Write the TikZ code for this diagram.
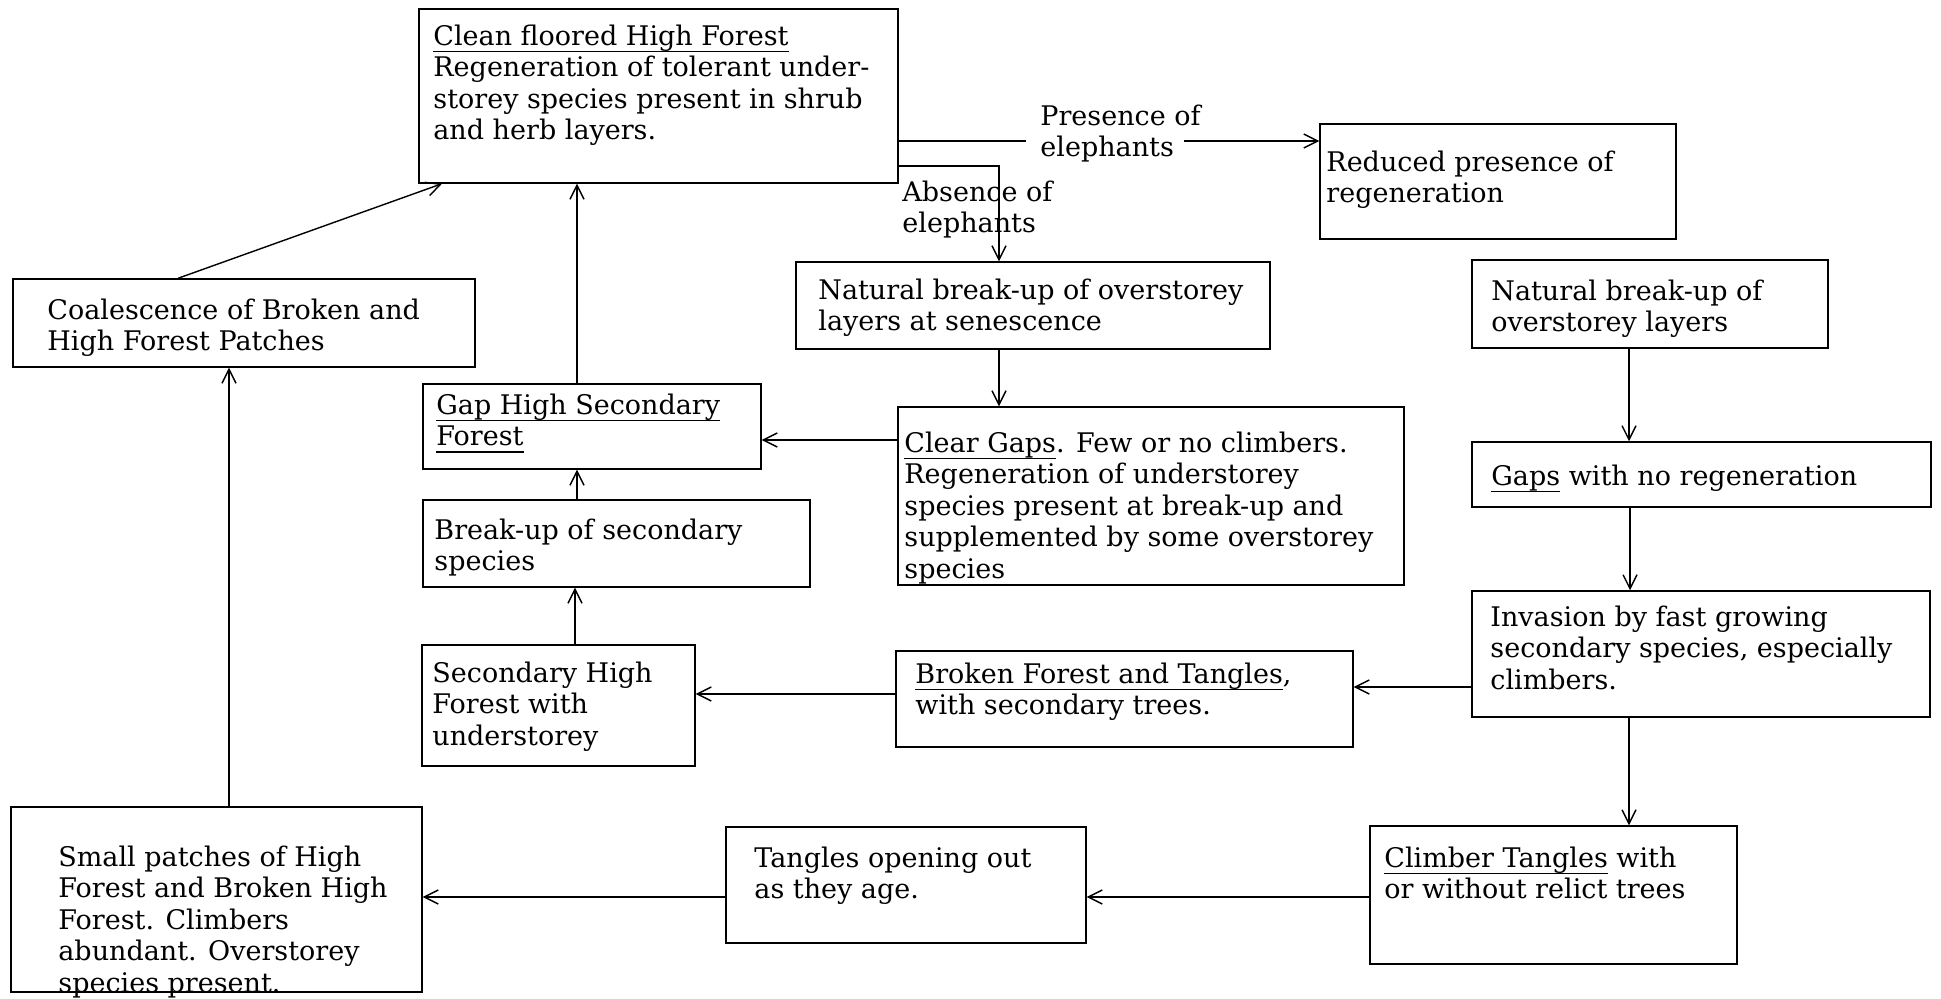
\documentclass[tikz,border=0pt]{standalone}
\usepackage{fontspec}
\setmainfont{DejaVu Serif}
\usetikzlibrary{arrows.meta,fit}
\tikzset{
  box/.style={draw, line width=0.7pt, inner sep=0pt},
  txt/.style={inner sep=0pt, align=left, anchor=north west, font=\fontsize{13.5}{15.75}\selectfont},
  arr/.style={-{Straight Barb[length=7pt,width=7pt]}, line width=0.7pt},
  ln/.style={line width=0.7pt}
}
\newsavebox{\ulbox}
\newcommand{\ulin}[1]{\sbox{\ulbox}{#1}\rlap{\rule[-3.3pt]{\wd\ulbox}{0.55pt}}\usebox{\ulbox}}
\newcommand{\bx}[5]{\node[box, fit={(#2,#3) (#4,#5)}] (#1) {};}
\newcommand{\tx}[4]{\node[txt] (#1) at (#2,#3-22.05) {\strut #4};}
\begin{document}
\begin{tikzpicture}[x=0.5pt,y=-0.5pt]
\useasboundingbox (0,0) rectangle (1941,999);
% boxes
\bx{top}{419}{9}{898}{183}
\tx{top-t}{433}{45}{\ulin{Clean floored High Forest}\\Regeneration of tolerant under-\\storey species present in shrub\\and herb layers.}
\bx{red}{1320}{124}{1676}{239}
\tx{red-t}{1326}{171}{Reduced presence of\\regeneration}
\bx{coal}{13}{279}{475}{367}
\tx{coal-t}{47}{319}{Coalescence of Broken and\\High Forest Patches}
\bx{natsen}{796}{262}{1270}{349}
\tx{natsen-t}{818}{299}{Natural break-up of overstorey\\layers at senescence}
\bx{natr}{1472}{260}{1828}{348}
\tx{natr-t}{1491}{300}{Natural break-up of\\overstorey layers}
\bx{gap}{423}{384}{761}{469}
\tx{gap-t}{436}{414}{\ulin{Gap High Secondary}\\\ulin{Forest}}
\bx{clear}{898}{407}{1404}{585}
\tx{clear-t}{904}{452}{\ulin{Clear Gaps}. Few or no climbers.\\Regeneration of understorey\\species present at break-up and\\supplemented by some overstorey\\species}
\bx{gaps}{1472}{442}{1931}{507}
\tx{gaps-t}{1491}{485}{\ulin{Gaps} with no regeneration}
\bx{brk}{423}{500}{810}{587}
\tx{brk-t}{434}{539}{Break-up of secondary\\species}
\bx{inv}{1472}{591}{1930}{717}
\tx{inv-t}{1490}{626}{Invasion by fast growing\\secondary species, especially\\climbers.}
\bx{shf}{422}{645}{695}{766}
\tx{shf-t}{432}{682}{Secondary High\\Forest with\\understorey}
\bx{broken}{896}{651}{1353}{747}
\tx{broken-t}{915}{683}{\ulin{Broken Forest and Tangles},\\with secondary trees.}
\bx{climb}{1370}{826}{1737}{964}
\tx{climb-t}{1384}{867}{\ulin{Climber Tangles} with\\or without relict trees}
\bx{tang}{726}{827}{1086}{943}
\tx{tang-t}{754}{867}{Tangles opening out\\as they age.}
\bx{small}{11}{807}{422}{992}
\tx{small-t}{58}{866}{Small patches of High\\Forest and Broken High\\Forest. Climbers\\abundant. Overstorey\\species present.}
% elephant labels
\tx{pres}{1040}{125}{Presence of\\elephants}
\tx{abs}{902}{201}{Absence of\\elephants}
% connectors
\coordinate (pA) at (1026,141);
\coordinate (pB) at (1184,141);
\draw[ln] (top.east |- pA) -- (pA);
\draw[arr] (pB) -- (red.west |- pB);
\coordinate (aA) at (999,166);
\draw[arr] (top.east |- aA) -- (aA) -- (aA |- natsen.north);
\draw[arr] ([xshift=-33pt]coal.north) -- ([xshift=-108.25pt]top.south);
\coordinate (g1) at ([xshift=-7.5pt]gap.north);
\draw[arr] (g1) -- (g1 |- top.south);
\coordinate (b1) at ([xshift=-19.75pt]brk.north);
\draw[arr] (b1) -- (b1 |- gap.south);
\coordinate (s1) at ([xshift=8.25pt]shf.north);
\draw[arr] (s1) -- (s1 |- brk.south);
\coordinate (n1) at ([xshift=-17pt]natsen.south);
\draw[arr] (n1) -- (n1 |- clear.north);
\coordinate (g2) at ([yshift=-6.75pt]gap.east);
\draw[arr] (clear.west |- g2) -- (g2);
\coordinate (s2) at ([yshift=5.75pt]shf.east);
\draw[arr] (broken.west |- s2) -- (s2);
\coordinate (k1) at ([yshift=6pt]broken.east);
\draw[arr] (inv.west |- k1) -- (k1);
\coordinate (r1) at ([xshift=-10.5pt]natr.south);
\draw[arr] (r1) -- (r1 |- gaps.north);
\coordinate (r2) at ([xshift=-35.75pt]gaps.south);
\draw[arr] (r2) -- (r2 |- inv.north);
\coordinate (r3) at ([xshift=-36pt]inv.south);
\draw[arr] (r3) -- (r3 |- climb.north);
\coordinate (t1) at ([yshift=-6pt]tang.east);
\draw[arr] (climb.west |- t1) -- (t1);
\coordinate (m1) at ([yshift=1.25pt]small.east);
\draw[arr] (tang.west |- m1) -- (m1);
\coordinate (q1) at ([xshift=6.25pt]small.north);
\draw[arr] (q1) -- (q1 |- coal.south);
\end{tikzpicture}
\end{document}
